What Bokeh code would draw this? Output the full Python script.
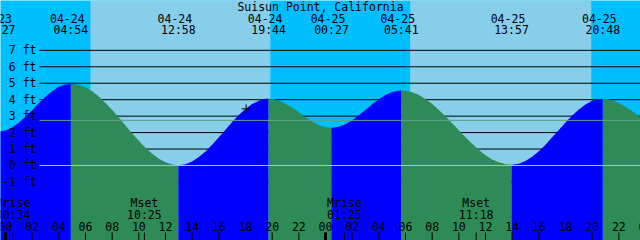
from bokeh.plotting import figure
from bokeh.models import Range1d, ColumnDataSource
from bokeh.embed import file_html
from bokeh.resources import INLINE
from bokeh.core.properties import value

# ---------------- data (hours counted from 04-24 00:00, levels in feet) -------------
station = "Suisun Point, California"

sample_hours = [i * 0.5 - 0.5 for i in range(98)]   # half-hour reading grid
sample_levels = [
    2.05, 2.12, 2.31, 2.60, 2.96, 3.36, 3.78, 4.18, 4.52, 4.78, 4.93, 4.97,
    4.90, 4.75, 4.51, 4.19, 3.80, 3.38, 2.91, 2.43, 1.95, 1.50, 1.08, 0.71,
    0.41, 0.19, 0.06, 0.02, 0.08, 0.25, 0.51, 0.85, 1.26, 1.71, 2.18, 2.64,
    3.07, 3.44, 3.74, 3.94, 4.05, 4.05, 3.95, 3.76, 3.52, 3.23, 2.94, 2.67,
    2.46, 2.33, 2.29, 2.35, 2.51, 2.75, 3.05, 3.38, 3.72, 4.03, 4.29, 4.47,
    4.55, 4.54, 4.45, 4.28, 4.04, 3.74, 3.38, 2.99, 2.57, 2.14, 1.72, 1.32,
    0.95, 0.63, 0.37, 0.19, 0.07, 0.04, 0.10, 0.27, 0.53, 0.86, 1.26, 1.71,
    2.16, 2.62, 3.04, 3.41, 3.71, 3.93, 4.04, 4.05, 3.97, 3.80, 3.57, 3.29,
    3.01, 2.74,
]

event_hours = [-0.55, 4.90, 12.967, 19.733, 24.45, 29.683, 37.95, 44.80]
event_levels = [2.05, 4.97, 0.02, 4.06, 2.29, 4.56, 0.04, 4.06]
event_kinds = ["low", "high", "low", "high", "low", "high", "low", "high"]
event_dates = ["04-23", "04-24", "04-24", "04-24", "04-25", "04-25", "04-25", "04-25"]
event_clock = ["23:27", "04:54", "12:58", "19:44", "00:27", "05:41", "13:57", "20:48"]

sunrise_hours = [6.37, 30.35]
sunset_hours = [19.87, 43.93]

moon_hours = [0.567, 10.417, 25.417, 35.30]
moon_kinds = ["Mrise", "Mset", "Mrise", "Mset"]
moon_clock = ["00:34", "10:25", "01:25", "11:18"]

level_ticks = [-1, 0, 1, 2, 3, 4, 5, 6, 7]
level_labels = [f"{v} ft" for v in level_ticks]
hour_ticks = list(range(0, 50, 2))
hour_labels = ["%02d" % (h % 24) for h in hour_ticks]
midnights = [0, 24, 48]

mean_level = 2.74
datum_level = 0.0
now_hour = 18.05
now_level = 3.44

# ---------------- colours / layout ----------------
NIGHT = "#00BFFF"
DAY = "#87CEEB"
FLOOD = "#0000FF"
EBB = "#2E8B57"
DATUM = "#87CEEB"
MSL = "#5FA08C"
FONT = value("DejaVu Sans Mono")
FSIZE = value("11.5px")

W, H = 640, 240
X0, X1 = -0.375, 47.625
PX_PER_FT = 16.45
Y1 = 10.030
Y0 = Y1 - H / PX_PER_FT


def fy(py):
    return Y1 - py / PX_PER_FT


def fx(px):
    return X0 + px * (X1 - X0) / W


p = figure(width=W, height=H, x_range=Range1d(X0, X1), y_range=Range1d(Y0, Y1),
           output_backend="svg", toolbar_location=None, min_border=0)
p.axis.visible = False
p.grid.visible = False
p.outline_line_color = None
p.background_fill_color = NIGHT
p.border_fill_color = NIGHT

# day backgrounds
p.quad(left=sunrise_hours, right=sunset_hours, bottom=Y0 - 5, top=Y1 + 5,
       fill_color=DAY, line_color=None)

# level grid lines (under the water)
p.segment(x0=[fx(39)] * len(level_ticks), x1=[X1 + 1] * len(level_ticks),
          y0=level_ticks, y1=level_ticks, line_color="black", line_width=1)

# tide fill split into flood / ebb pieces
pts = sorted(list(zip(sample_hours, sample_levels)) + list(zip(event_hours, event_levels)))
bounds = event_hours + [X1 + 10]
for k in range(len(event_hours)):
    a, b = bounds[k], bounds[k + 1]
    seg = [(t, v) for (t, v) in pts if a <= t <= b]
    if len(seg) < 2:
        continue
    color = FLOOD if event_kinds[k] == "low" else EBB
    p.varea(x=[t for t, _ in seg], y1=[Y0 - 5] * len(seg), y2=[v for _, v in seg],
            fill_color=color)

# mean level and datum lines
p.segment(x0=[fx(39)], x1=[X1 + 1], y0=[mean_level], y1=[mean_level], line_color=MSL, line_width=1)
p.segment(x0=[fx(39)], x1=[X1 + 1], y0=[datum_level], y1=[datum_level], line_color=DATUM, line_width=1)

# current time mark
p.scatter(x=[now_hour], y=[now_level], marker="cross", size=9, line_color="black",
          line_width=1, fill_color=None)

# level labels
p.text(x=[fx(36)] * len(level_ticks), y=level_ticks, text=level_labels, text_align="right",
       text_baseline="middle", text_font=FONT, text_font_size=FSIZE, text_color="black")

# title
p.text(x=[fx(320)], y=[fy(6)], text=[station], text_align="center", text_baseline="middle",
       text_font=FONT, text_font_size=FSIZE, text_color="black")

# tide event labels
p.text(x=event_hours, y=[fy(17.5)] * len(event_hours), text=event_dates, x_offset=-3.5,
       text_align="center", text_baseline="middle", text_font=FONT, text_font_size=FSIZE,
       text_color="black")
p.text(x=event_hours, y=[fy(29.5)] * len(event_hours), text=event_clock,
       text_align="center", text_baseline="middle", text_font=FONT, text_font_size=FSIZE,
       text_color="black")

# moon labels
p.text(x=moon_hours, y=[fy(202)] * len(moon_hours), text=moon_kinds,
       text_align="center", text_baseline="middle", text_font=FONT, text_font_size=FSIZE,
       text_color="black")
p.text(x=moon_hours, y=[fy(214)] * len(moon_hours), text=moon_clock,
       text_align="center", text_baseline="middle", text_font=FONT, text_font_size=FSIZE,
       text_color="black")

# hour labels and ticks
p.text(x=hour_ticks, y=[fy(226)] * len(hour_ticks), text=hour_labels,
       text_align="center", text_baseline="middle", text_font=FONT, text_font_size=FSIZE,
       text_color="black")
p.segment(x0=hour_ticks, x1=hour_ticks, y0=[fy(232)] * len(hour_ticks), y1=[fy(241)] * len(hour_ticks),
          line_color="black", line_width=1)
p.segment(x0=midnights, x1=midnights, y0=[fy(232)] * len(midnights), y1=[fy(241)] * len(midnights),
          line_color="black", line_width=3)
p.segment(x0=moon_hours, x1=moon_hours, y0=[fy(232)] * len(moon_hours), y1=[fy(241)] * len(moon_hours),
          line_color="black", line_width=1)

open("out.html", "w").write(file_html(p, INLINE))
